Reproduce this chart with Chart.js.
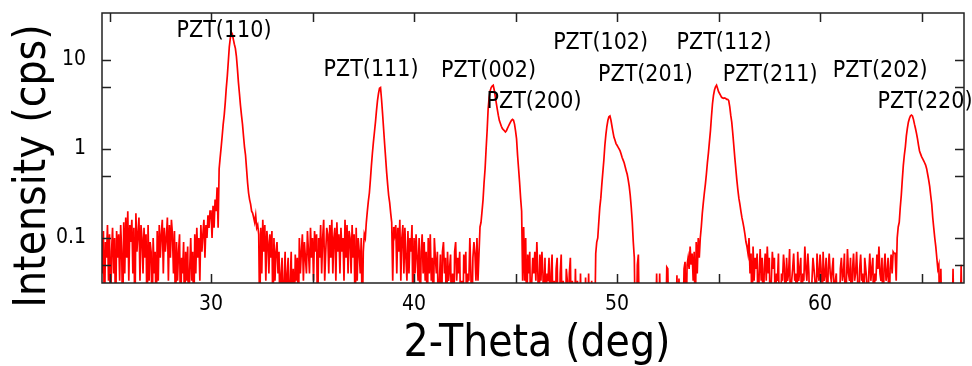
<!DOCTYPE html>
<html>
<head>
<meta charset="utf-8">
<title>PZT XRD pattern</title>
<script src="https://cdn.jsdelivr.net/npm/chart.js@4.4.1/dist/chart.umd.min.js"></script>
<style>
  html, body { margin: 0; padding: 0; background: #fff; }
  #xrd { display: block; }
</style>
</head>
<body>
<canvas id="xrd" width="972" height="366"></canvas>
<script>
// XRD scan of the PZT film, intensity in cps, one reading every 0.05 deg.
// Each block below starts at the angle given in segmentStart.
// 0 = no counts in that step (sits below the bottom of the log axis).
const stepDeg = 0.05;

const noiseA = [ // 24.60 - 29.95
  .1,.04,.12,0,.09,.06,.14,.033,.11,0,
  .07,.13,.04,.1,0,.12,.06,.11,.033,.14,
  .07,0,.15,.04,.17,.06,.2,.033,.14,.09,
  .16,.04,.13,0,.19,.07,.11,.17,.033,.14,
  .1,.04,.13,.06,.11,0,.14,.033,.09,.07,
  0,.1,.04,.07,0,.12,.033,.14,.06,.11,
  .16,.04,.13,.07,.1,.17,.033,.14,.06,.16,
  .11,.04,.12,0,.09,.033,.07,.11,0,.06,
  .04,.09,0,.07,.033,.08,0,.045,.1,.033,
  .07,0,.11,.04,.13,.06,.1,.033,.14,.07,
  .11,.16,.06,.14,.1,.18,.13,.2
];
const peak110 = [ // 30.00 - 32.30
  .2,.1,.23,.13,.27,.2,.37,.13,.6,.8,
  1.05,1.4,1.9,2.4,3.3,4.8,6.5,9.5,14,17.5,
  20.5,19.5,17,15,13.5,11,8,5.6,4.2,3.1,
  2.4,1.9,1.4,1.05,.85,.6,.42,.32,.27,.24,
  .2,.19,.17,.15,.18,.13,.14
];
const noiseB = [ // 32.35 - 37.55
  .11,0,.13,.04,.16,.07,.14,.033,.12,.09,
  .04,.11,.06,.12,0,.1,.033,.07,.09,.04,
  .07,0,.04,.06,0,.033,.07,0,.04,.06,
  0,.033,.07,0,.045,0,.065,.033,.06,0,
  .1,.04,.07,.11,.033,.09,.06,.04,.12,.07,
  .04,.13,.06,.1,.033,.12,.07,.11,0,.1,
  .06,.14,.04,.1,.16,.033,.07,.13,.11,.04,
  .14,.06,.16,.04,.1,.13,.033,.15,.07,.11,
  .04,.13,.07,.1,.033,.16,.06,.14,.04,.12,
  .1,.04,.14,.06,.11,0,.13,.033,.1,.07,
  .04,.1,0,.07,.11
];
const peak111 = [ // 37.60 - 39.00
  .1,.15,.2,.26,.32,.45,.65,.9,1.2,1.55,
  2.0,2.7,3.5,4.2,4.8,4.9,3.6,2.5,1.7,1.15,
  .8,.55,.4,.3,.25,.19,.15,.033,.133
];
const noiseC = [ // 39.05 - 42.95
  .11,.14,.04,.13,.07,.16,.033,.1,.14,.04,
  .13,.06,.033,.12,.04,.1,.07,.14,0,.1,
  .04,.11,.06,.033,.1,0,.07,.11,.04,.09,
  .033,.07,0,.1,.04,.11,.033,.06,0,.1,
  .06,.04,.07,0,.033,.065,0,.07,.09,.04,
  .06,0,.07,.033,.045,.065,0,.04,0,.07,
  .09,.033,.06,.04,.07,0,.033,0,.065,.04,
  .07,0,.04,.033,.1,.04,0,.06,.09
];
const peak200 = [ // 43.00 - 45.55
  .067,.033,.1,.033,.067,.133,.15,.2,.27,.42,
  .6,1.0,1.6,2.8,3.8,4.5,4.9,5.1,5.2,4.6,
  3.9,3.3,2.8,2.4,2.1,1.95,1.8,1.7,1.65,1.6,
  1.55,1.6,1.7,1.8,1.9,2.0,2.1,2.15,2.1,1.9,
  1.6,1.3,.85,.6,.42,.28,.2,.033,.133,.033,
  .1,0
];
const noiseD = [ // 45.60 - 48.85
  .065,.04,.07,0,.033,.06,.04,.07,.033,.09,
  .04,0,.065,.033,.07,.04,0,.06,0,.04,
  .033,.06,0,.04,.065,0,.033,0,.045,.06,
  0,0,.04,.065,0,.033,0,0,.045,.033,
  0,.04,.06,0,.033,0,0,.045,0,.033,
  0,0,.04,0,0,0,0,.036,0,0,
  .04,0,0,.033,0,0
];
const peak201 = [ // 48.90 - 51.10
  0,.067,.09,.1,.15,.22,.28,.4,.55,.75,
  1.1,1.45,1.8,2.1,2.3,2.35,2.1,1.8,1.55,1.35,
  1.25,1.15,1.1,1.05,1.0,.95,.88,.8,.75,.7,
  .63,.57,.52,.45,.38,.3,.22,.15,.09,.06,
  0,0,.05,.065,0
];
const noiseE = [ // 51.15 - 53.65
  0,0,0,0,0,0,0,0,0,0,
  0,0,0,0,0,0,.04,0,0,.04,
  0,0,0,0,0,0,.047,.045,0,0,
  0,0,0,0,0,0,.038,0,.035,0,
  0,0,0,.045,.054,0,.05,.06,.045,.08,
  .05
];
const peak211 = [ // 53.70 - 56.40
  .067,.033,.07,0,.09,.04,.1,.06,.1,.133,
  .19,.25,.32,.4,.52,.7,.9,1.2,1.6,2.3,
  3.2,4.0,4.6,5.0,5.2,4.8,4.4,4.2,4.0,3.8,
  3.75,3.7,3.75,3.7,3.6,3.6,3.5,3.0,2.4,2.0,
  1.5,1.1,.8,.6,.45,.35,.28,.24,.2,.17,
  .15,.13,.11,.09,.08
];
const noiseF = [ // 56.45 - 63.65
  .067,.1,.04,.067,0,.08,.033,.06,.045,.067,
  0,.04,.075,.033,.06,0,.045,.067,.033,.08,
  .04,.06,0,.033,.07,.045,.06,0,.04,.033,
  .067,0,0,.04,.033,.065,.045,0,.06,.033,
  .04,.075,0,.033,.045,.067,.033,.04,0,.07,
  .033,.045,.06,0,.04,.033,.08,.045,.033,.067,
  .04,0,0,.033,.06,.045,.033,0,.067,.04,
  .033,.065,.045,0,.07,.033,.04,.06,0,.045,
  .067,.04,.033,.045,.06,0,.033,.04,0,0,
  0,.045,.06,.033,.04,.067,0,.033,.075,.04,
  .033,.06,0,.045,.067,.033,.04,.07,.033,0,
  .045,.065,.033,.04,0,.06,.045,.033,0,.04,
  .067,.033,.045,.06,0,.04,.033,.065,.045,.08,
  .04,.033,.06,0,.045,.067,.033,.04,.06,0,
  .045,.065,.04,.07,.067
];
const peak220 = [ // 63.70 - 66.00
  .067,.033,.1,.133,.15,.22,.3,.45,.65,.85,
  1.05,1.4,1.7,2.0,2.2,2.35,2.4,2.35,2.15,1.9,
  1.7,1.5,1.3,1.1,.95,.88,.82,.78,.74,.7,
  .66,.6,.52,.45,.38,.3,.24,.17,.13,.1,
  .08,.06,.045,.05,0,.045,0
];
const noiseG = [ // 66.05 - 67.10
  0,0,0,0,0,0,0,0,0,0,
  .045,0,0,0,0,0,0,0,.05,0,
  0,0
];

const segmentStart = [24.60, 30.00, 32.35, 37.60, 39.05, 43.00, 45.60, 48.90, 51.15, 53.70, 56.45, 63.70, 66.05];
const segments = [noiseA, peak110, noiseB, peak111, noiseC, peak200, noiseD, peak201, noiseE, peak211, noiseF, peak220, noiseG];

// axes
const xMin = 24.63, xMax = 67.09;
const yMin = 0.0312, yMax = 33.7;
const xTickValues = [25, 30, 35, 40, 45, 50, 55, 60, 65];
const xTickLabels = [30, 40, 50, 60];
const yTickValues = [0.05, 0.1, 0.5, 1, 5, 10];
const yTickLabels = [0.1, 1, 10];

// reflection labels, placed at (2-theta, cps)
const peakLabels = ['PZT(110)', 'PZT(111)', 'PZT(002)', 'PZT(200)', 'PZT(102)', 'PZT(201)', 'PZT(112)', 'PZT(211)', 'PZT(202)', 'PZT(220)'];
const labelX = [30.64, 37.88, 43.67, 45.91, 49.19, 51.40, 55.27, 57.54, 62.96, 65.17];
const labelY = [21.2, 7.72, 7.52, 3.37, 15.5, 6.78, 15.5, 6.78, 7.52, 3.37];

const fontFamily = '"DejaVu Sans Condensed", "DejaVu Sans", sans-serif';
const belowAxis = 0.01; // log axis can't take 0, push empty steps under the frame

const points = [];
segments.forEach((seg, s) => {
  seg.forEach((v, i) => {
    points.push({ x: +(segmentStart[s] + i * stepDeg).toFixed(2), y: v > 0 ? v : belowAxis });
  });
});

// frame with inward ticks on all four sides, peak names and axis titles
const frameAndText = {
  id: 'frameAndText',
  afterDatasetsDraw(chart) {
    const { ctx, chartArea: a, scales } = chart;
    const x = scales.x, y = scales.y;
    const tickLen = 9;
    ctx.save();
    ctx.strokeStyle = '#222';
    ctx.lineWidth = 1.5;
    ctx.strokeRect(a.left, a.top, a.right - a.left, a.bottom - a.top);
    ctx.beginPath();
    xTickValues.forEach(v => {
      const px = Math.round(x.getPixelForValue(v)) + 0.5;
      ctx.moveTo(px, a.top); ctx.lineTo(px, a.top + tickLen);
      ctx.moveTo(px, a.bottom); ctx.lineTo(px, a.bottom - tickLen);
    });
    yTickValues.forEach(v => {
      const py = Math.round(y.getPixelForValue(v)) + 0.5;
      ctx.moveTo(a.left, py); ctx.lineTo(a.left + tickLen, py);
      ctx.moveTo(a.right, py); ctx.lineTo(a.right - tickLen, py);
    });
    ctx.stroke();

    ctx.fillStyle = '#000';
    ctx.font = '23px ' + fontFamily;
    ctx.textAlign = 'center';
    ctx.textBaseline = 'middle';
    peakLabels.forEach((t, i) => {
      ctx.fillText(t, x.getPixelForValue(labelX[i]), y.getPixelForValue(labelY[i]));
    });

    ctx.font = '44px ' + fontFamily;
    ctx.textBaseline = 'alphabetic';
    ctx.fillText('2-Theta (deg)', (a.left + a.right) / 2 + 4, a.bottom + 73);
    ctx.translate(a.left - 57, (a.top + a.bottom) / 2 + 18);
    ctx.rotate(-Math.PI / 2);
    ctx.fillText('Intensity (cps)', 0, 0);
    ctx.restore();
  }
};

Chart.defaults.font.family = fontFamily;
Chart.defaults.color = '#000';

new Chart(document.getElementById('xrd'), {
  type: 'line',
  data: {
    datasets: [{
      data: points,
      borderColor: '#ff0000',
      borderWidth: 1.7,
      pointRadius: 0,
      tension: 0,
      fill: false
    }]
  },
  options: {
    responsive: false,
    animation: false,
    devicePixelRatio: 1,
    layout: { padding: { top: 13, right: 8, left: 0, bottom: 0 } },
    plugins: { legend: { display: false }, tooltip: { enabled: false } },
    scales: {
      x: {
        type: 'linear',
        min: xMin,
        max: xMax,
        grid: { display: false, drawTicks: false },
        border: { display: false },
        afterBuildTicks: s => { s.ticks = xTickValues.map(v => ({ value: v })); },
        afterFit: s => { s.height = 83; s.paddingLeft = 0; s.paddingRight = 0; },
        ticks: {
          autoSkip: false,
          maxRotation: 0,
          padding: 9,
          font: { size: 21 },
          callback: v => xTickLabels.includes(v) ? String(v) : ''
        }
      },
      y: {
        type: 'logarithmic',
        min: yMin,
        max: yMax,
        grid: { display: false, drawTicks: false },
        border: { display: false },
        afterBuildTicks: s => { s.ticks = yTickValues.map(v => ({ value: v })); },
        afterFit: s => { s.width = 102; s.paddingTop = 0; s.paddingBottom = 0; },
        ticks: {
          autoSkip: false,
          padding: 16,
          font: { size: 21 },
          callback: v => yTickLabels.includes(v) ? String(v) : ''
        }
      }
    }
  },
  plugins: [frameAndText]
});
</script>
</body>
</html>
